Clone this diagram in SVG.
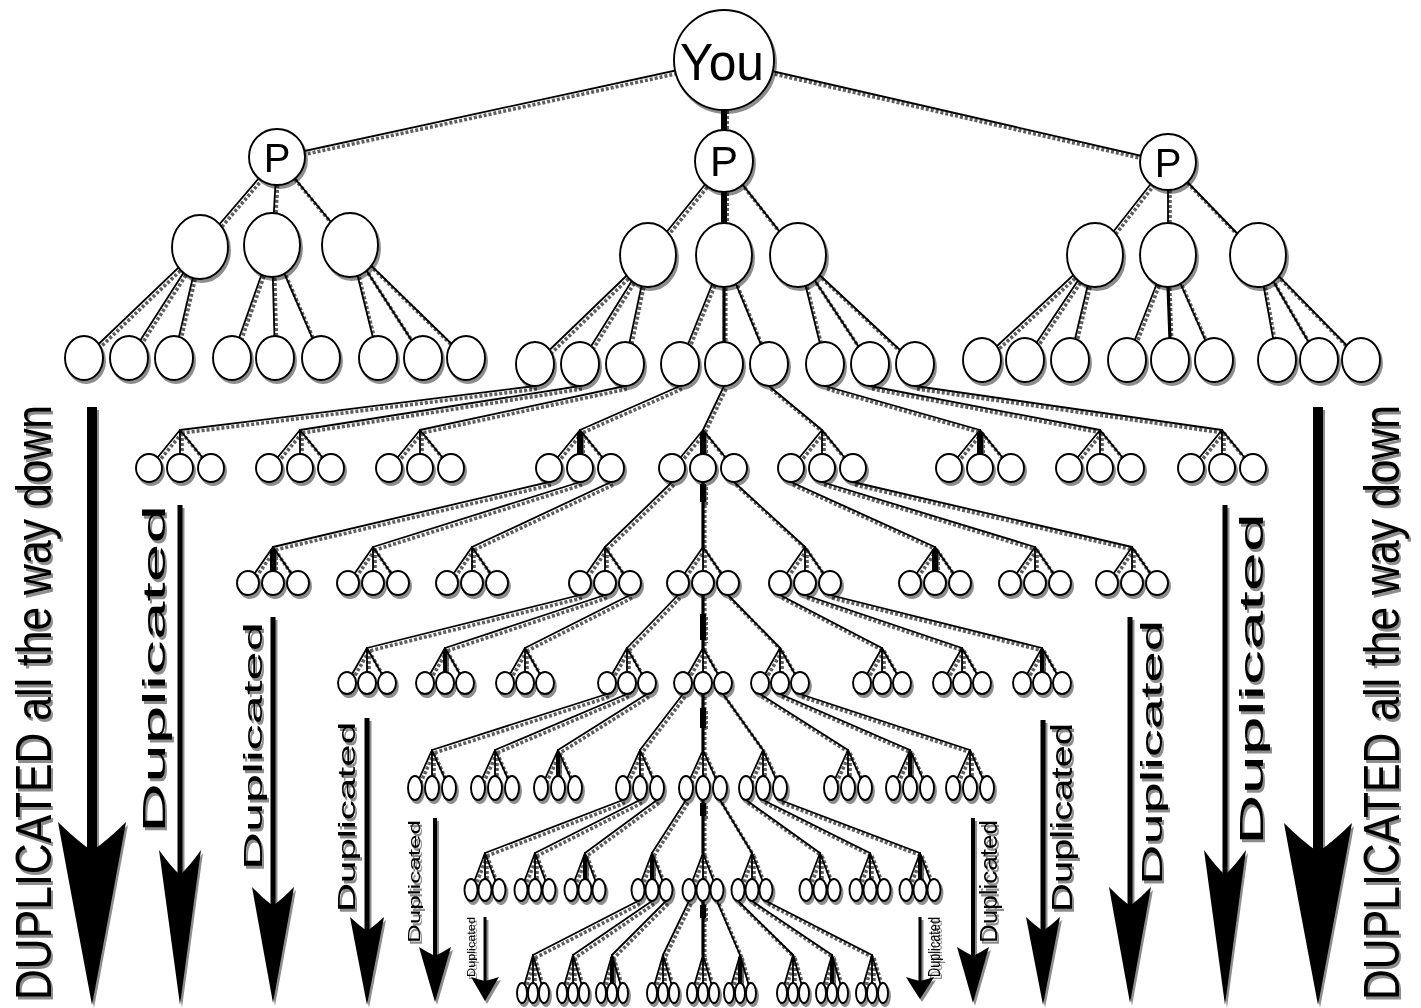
<svg xmlns="http://www.w3.org/2000/svg" width="1421" height="1008" viewBox="0 0 1421 1008">
<defs>
<style>
.e{fill:none;stroke:#000;stroke-width:1.8;stroke-linecap:round}
.sh{fill:none;stroke:#5e5e5e;stroke-width:3.6;stroke-dasharray:3 2}
.k{stroke-width:3.2}
.kk{stroke-width:6;stroke-linecap:butt}
.k2{stroke-width:4;stroke-linecap:butt}
.n ellipse,.n circle{fill:#fff;stroke:#000;stroke-width:1.9}
.lbl{font-family:"Liberation Sans",Arial,sans-serif;fill:#000;text-anchor:middle}
.dup{font-family:"Liberation Sans",Arial,sans-serif;fill:#000}
.shaft{stroke:#000;fill:none}
.head{fill:#000}
</style>
<filter id="ds" filterUnits="userSpaceOnUse" x="0" y="0" width="1421" height="1008">
<feOffset in="SourceAlpha" dx="2" dy="3" result="o"/>
<feComponentTransfer in="o" result="g"><feFuncA type="linear" slope="0.45"/></feComponentTransfer>
<feMerge><feMergeNode in="g"/><feMergeNode in="SourceGraphic"/></feMerge>
</filter>
</defs>
<rect width="1421" height="1008" fill="#fff"/>

<g id="connectors">
<use href="#edges" class="sh" x="2" y="3"/>
<g class="e"><g id="edges">
<path d="M724,60L277,157M724,60L1168,162"/>
<path class="kk" d="M724,108L724,132"/>
<path d="M277,157L200,247M277,157L272,245M277,157L350,245"/>
<path d="M724,161L648,255M724,161L798,255"/>
<path class="kk" d="M724,190L724,225"/>
<path d="M1168,162L1095,255M1168,162L1168,255M1168,162L1258,255"/>
<path d="M200,247L84,358M200,247L129,358M200,247L174,358"/>
<path d="M272,245L232,358M272,245L275,358M272,245L321,358"/>
<path d="M350,245L378,358M350,245L423,358M350,245L466,358"/>
<path d="M648,255L535,364M648,255L580,364M648,255L625,364"/>
<path d="M724,255L680,364M724,255L769,364"/><path class="k" d="M724,285L724,345"/>
<path d="M798,255L825,364M798,255L870,364M798,255L915,364"/>
<path d="M1095,255L982,360M1095,255L1025,360M1095,255L1070,360"/>
<path d="M1168,255L1127,360M1168,255L1214,360"/><path class="k" d="M1168,285L1170,340"/>
<path d="M1258,255L1277,360M1258,255L1319,360M1258,255L1361,360"/>
<path d="M535,386L180,430M580,386L300,430M625,386L420,430M680,386L580,430M724,386L703,430M769,386L822,430M825,386L980,430M870,386L1100,430M915,386L1222,430"/>
<path d="M180,430L149,468M180,430L180,468M180,430L211,468M300,430L269,468M300,430L300,468M300,430L331,468M420,430L389,468M420,430L420,468M420,430L451,468M580,430L549,468M580,430L580,468M580,430L611,468M703,430L672,468M703,430L703,468M703,430L734,468M822,430L791,468M822,430L822,468M822,430L853,468M980,430L949,468M980,430L980,468M980,430L1011,468M1100,430L1069,468M1100,430L1100,468M1100,430L1131,468M1222,430L1191,468M1222,430L1222,468M1222,430L1253,468"/>
<path class="kk" d="M580,432L580,455M703,432L703,455M980,432L980,455"/>
<path d="M549,482L273,547M580,482L373,547M611,482L472,547M672,482L605,547M734,482L805,547M791,482L935,547M822,482L1035,547M853,482L1132,547"/>
<path class="k" d="M703,482L703,547"/><path class="kk" d="M703,484L703,502"/>
<path d="M273,547L248,583M273,547L273,583M273,547L298,583M373,547L348,583M373,547L373,583M373,547L398,583M472,547L447,583M472,547L472,583M472,547L497,583M605,547L580,583M605,547L605,583M605,547L630,583M703,547L678,583M703,547L703,583M703,547L728,583M805,547L780,583M805,547L805,583M805,547L830,583M935,547L910,583M935,547L935,583M935,547L960,583M1035,547L1010,583M1035,547L1035,583M1035,547L1060,583M1132,547L1107,583M1132,547L1132,583M1132,547L1157,583"/>
<path class="kk" d="M273,549L273,571M935,549L935,571"/>
<path d="M580,595L367,648M605,595L445,648M630,595L525,648M678,595L627,648M728,595L780,648M780,595L882,648M805,595L962,648M830,595L1042,648"/>
<path class="k" d="M703,595L703,648"/><path class="kk" d="M703,614L703,640"/>
<path d="M367,648L347,683M367,648L367,683M367,648L387,683M445,648L425,683M445,648L445,683M445,648L465,683M525,648L505,683M525,648L525,683M525,648L545,683M627,648L607,683M627,648L627,683M627,648L647,683M703,648L683,683M703,648L703,683M703,648L723,683M780,648L760,683M780,648L780,683M780,648L800,683M882,648L862,683M882,648L882,683M882,648L902,683M962,648L942,683M962,648L962,683M962,648L982,683M1042,648L1022,683M1042,648L1042,683M1042,648L1062,683"/>
<path class="k2" d="M445,650L445,672M1042,650L1042,672"/>
<path d="M607,694L432,750M627,694L495,750M647,694L558,750M683,694L640,750M723,694L763,750M760,694L848,750M780,694L910,750M800,694L970,750"/>
<path class="k" d="M703,694L703,750"/><path class="kk" d="M703,708L703,728"/>
<path d="M432,750L415,788M432,750L432,788M432,750L449,788M495,750L478,788M495,750L495,788M495,750L512,788M558,750L541,788M558,750L558,788M558,750L575,788M640,750L623,788M640,750L640,788M640,750L657,788M703,750L686,788M703,750L703,788M703,750L720,788M763,750L746,788M763,750L763,788M763,750L780,788M848,750L831,788M848,750L848,788M848,750L865,788M910,750L893,788M910,750L910,788M910,750L927,788M970,750L953,788M970,750L970,788M970,750L987,788"/>
<path class="k2" d="M558,752L558,776M910,752L910,776"/>
<path d="M623,800L485,853M640,800L535,853M657,800L585,853M686,800L652,853M720,800L752,853M746,800L820,853M763,800L870,853M780,800L920,853"/>
<path class="k" d="M703,800L703,853"/><path class="kk" d="M703,803L703,816"/>
<path d="M485,853L471,890M485,853L485,890M485,853L499,890M535,853L521,890M535,853L535,890M535,853L549,890M585,853L571,890M585,853L585,890M585,853L599,890M652,853L638,890M652,853L652,890M652,853L666,890M703,853L689,890M703,853L703,890M703,853L717,890M752,853L738,890M752,853L752,890M752,853L766,890M820,853L806,890M820,853L820,890M820,853L834,890M870,853L856,890M870,853L870,890M870,853L884,890M920,853L906,890M920,853L920,890M920,853L934,890"/>
<path class="k2" d="M585,855L585,879M652,855L652,879M920,855L920,879"/>
<path d="M638,901L533,955M652,901L573,955M666,901L612,955M689,901L663,955M717,901L740,955M738,901L793,955M752,901L832,955M766,901L872,955"/>
<path class="k" d="M703,901L703,955"/><path class="kk" d="M703,905L703,918"/>
<path d="M533,955L522,993M533,955L533,993M533,955L544,993M573,955L562,993M573,955L573,993M573,955L584,993M612,955L601,993M612,955L612,993M612,955L623,993M663,955L652,993M663,955L663,993M663,955L674,993M703,955L692,993M703,955L703,993M703,955L714,993M740,955L729,993M740,955L740,993M740,955L751,993M793,955L782,993M793,955L793,993M793,955L804,993M832,955L821,993M832,955L832,993M832,955L843,993M872,955L861,993M872,955L872,993M872,955L883,993"/>
<path class="k2" d="M612,957L612,983M740,957L740,983M832,957L832,983"/>
</g></g>
</g>

<g id="nodes" filter="url(#ds)">
<g id="you" class="n"><circle cx="724" cy="60" r="50"/><text class="lbl" x="722" y="80" font-size="52" textLength="84" lengthAdjust="spacingAndGlyphs">You</text></g>
<g id="p-left" class="n"><circle cx="277" cy="157" r="28"/><text class="lbl" x="277" y="172" font-size="40">P</text></g>
<g id="p-mid" class="n"><ellipse cx="724" cy="161" rx="29" ry="31"/><text class="lbl" x="724" y="176" font-size="42">P</text></g>
<g id="p-right" class="n"><circle cx="1168" cy="162" r="28"/><text class="lbl" x="1168" y="177" font-size="40">P</text></g>

<g id="l2-1" class="n"><ellipse cx="200" cy="247" rx="28" ry="32"/></g>
<g id="l2-2" class="n"><ellipse cx="272" cy="245" rx="28" ry="32"/></g>
<g id="l2-3" class="n"><ellipse cx="350" cy="245" rx="28" ry="32"/></g>
<g id="l2-4" class="n"><ellipse cx="648" cy="255" rx="28" ry="32"/></g>
<g id="l2-5" class="n"><ellipse cx="724" cy="255" rx="28" ry="32"/></g>
<g id="l2-6" class="n"><ellipse cx="798" cy="255" rx="28" ry="32"/></g>
<g id="l2-7" class="n"><ellipse cx="1095" cy="255" rx="28" ry="32"/></g>
<g id="l2-8" class="n"><ellipse cx="1168" cy="255" rx="28" ry="32"/></g>
<g id="l2-9" class="n"><ellipse cx="1258" cy="255" rx="28" ry="32"/></g>

<g id="l3-left" class="n">
<ellipse cx="84" cy="358" rx="19" ry="22"/><ellipse cx="129" cy="358" rx="19" ry="22"/><ellipse cx="174" cy="358" rx="19" ry="22"/>
<ellipse cx="232" cy="358" rx="19" ry="22"/><ellipse cx="275" cy="358" rx="19" ry="22"/><ellipse cx="321" cy="358" rx="19" ry="22"/>
<ellipse cx="378" cy="358" rx="19" ry="22"/><ellipse cx="423" cy="358" rx="19" ry="22"/><ellipse cx="466" cy="358" rx="19" ry="22"/>
</g>
<g id="l3-mid" class="n">
<ellipse cx="535" cy="364" rx="19" ry="22"/><ellipse cx="580" cy="364" rx="19" ry="22"/><ellipse cx="625" cy="364" rx="19" ry="22"/>
<ellipse cx="680" cy="364" rx="19" ry="22"/><ellipse cx="724" cy="364" rx="19" ry="22"/><ellipse cx="769" cy="364" rx="19" ry="22"/>
<ellipse cx="825" cy="364" rx="19" ry="22"/><ellipse cx="870" cy="364" rx="19" ry="22"/><ellipse cx="915" cy="364" rx="19" ry="22"/>
</g>
<g id="l3-right" class="n">
<ellipse cx="982" cy="360" rx="19" ry="22"/><ellipse cx="1025" cy="360" rx="19" ry="22"/><ellipse cx="1070" cy="360" rx="19" ry="22"/>
<ellipse cx="1127" cy="360" rx="19" ry="22"/><ellipse cx="1170" cy="360" rx="19" ry="22"/><ellipse cx="1214" cy="360" rx="19" ry="22"/>
<ellipse cx="1277" cy="360" rx="19" ry="22"/><ellipse cx="1319" cy="360" rx="19" ry="22"/><ellipse cx="1361" cy="360" rx="19" ry="22"/>
</g>

<g id="l4" class="n">
<g id="t4-1"><ellipse cx="149" cy="468" rx="13" ry="14"/><ellipse cx="180" cy="468" rx="13" ry="14"/><ellipse cx="211" cy="468" rx="13" ry="14"/></g>
<g id="t4-2"><ellipse cx="269" cy="468" rx="13" ry="14"/><ellipse cx="300" cy="468" rx="13" ry="14"/><ellipse cx="331" cy="468" rx="13" ry="14"/></g>
<g id="t4-3"><ellipse cx="389" cy="468" rx="13" ry="14"/><ellipse cx="420" cy="468" rx="13" ry="14"/><ellipse cx="451" cy="468" rx="13" ry="14"/></g>
<g id="t4-4"><ellipse cx="549" cy="468" rx="13" ry="14"/><ellipse cx="580" cy="468" rx="13" ry="14"/><ellipse cx="611" cy="468" rx="13" ry="14"/></g>
<g id="t4-5"><ellipse cx="672" cy="468" rx="13" ry="14"/><ellipse cx="703" cy="468" rx="13" ry="14"/><ellipse cx="734" cy="468" rx="13" ry="14"/></g>
<g id="t4-6"><ellipse cx="791" cy="468" rx="13" ry="14"/><ellipse cx="822" cy="468" rx="13" ry="14"/><ellipse cx="853" cy="468" rx="13" ry="14"/></g>
<g id="t4-7"><ellipse cx="949" cy="468" rx="13" ry="14"/><ellipse cx="980" cy="468" rx="13" ry="14"/><ellipse cx="1011" cy="468" rx="13" ry="14"/></g>
<g id="t4-8"><ellipse cx="1069" cy="468" rx="13" ry="14"/><ellipse cx="1100" cy="468" rx="13" ry="14"/><ellipse cx="1131" cy="468" rx="13" ry="14"/></g>
<g id="t4-9"><ellipse cx="1191" cy="468" rx="13" ry="14"/><ellipse cx="1222" cy="468" rx="13" ry="14"/><ellipse cx="1253" cy="468" rx="13" ry="14"/></g>
</g>

<g id="l5" class="n">
<g id="t5-1"><ellipse cx="248" cy="583" rx="11" ry="12"/><ellipse cx="273" cy="583" rx="11" ry="12"/><ellipse cx="298" cy="583" rx="11" ry="12"/></g>
<g id="t5-2"><ellipse cx="348" cy="583" rx="11" ry="12"/><ellipse cx="373" cy="583" rx="11" ry="12"/><ellipse cx="398" cy="583" rx="11" ry="12"/></g>
<g id="t5-3"><ellipse cx="447" cy="583" rx="11" ry="12"/><ellipse cx="472" cy="583" rx="11" ry="12"/><ellipse cx="497" cy="583" rx="11" ry="12"/></g>
<g id="t5-4"><ellipse cx="580" cy="583" rx="11" ry="12"/><ellipse cx="605" cy="583" rx="11" ry="12"/><ellipse cx="630" cy="583" rx="11" ry="12"/></g>
<g id="t5-5"><ellipse cx="678" cy="583" rx="11" ry="12"/><ellipse cx="703" cy="583" rx="11" ry="12"/><ellipse cx="728" cy="583" rx="11" ry="12"/></g>
<g id="t5-6"><ellipse cx="780" cy="583" rx="11" ry="12"/><ellipse cx="805" cy="583" rx="11" ry="12"/><ellipse cx="830" cy="583" rx="11" ry="12"/></g>
<g id="t5-7"><ellipse cx="910" cy="583" rx="11" ry="12"/><ellipse cx="935" cy="583" rx="11" ry="12"/><ellipse cx="960" cy="583" rx="11" ry="12"/></g>
<g id="t5-8"><ellipse cx="1010" cy="583" rx="11" ry="12"/><ellipse cx="1035" cy="583" rx="11" ry="12"/><ellipse cx="1060" cy="583" rx="11" ry="12"/></g>
<g id="t5-9"><ellipse cx="1107" cy="583" rx="11" ry="12"/><ellipse cx="1132" cy="583" rx="11" ry="12"/><ellipse cx="1157" cy="583" rx="11" ry="12"/></g>
</g>

<g id="l6" class="n">
<g id="t6-1"><ellipse cx="347" cy="683" rx="9" ry="11"/><ellipse cx="367" cy="683" rx="9" ry="11"/><ellipse cx="387" cy="683" rx="9" ry="11"/></g>
<g id="t6-2"><ellipse cx="425" cy="683" rx="9" ry="11"/><ellipse cx="445" cy="683" rx="9" ry="11"/><ellipse cx="465" cy="683" rx="9" ry="11"/></g>
<g id="t6-3"><ellipse cx="505" cy="683" rx="9" ry="11"/><ellipse cx="525" cy="683" rx="9" ry="11"/><ellipse cx="545" cy="683" rx="9" ry="11"/></g>
<g id="t6-4"><ellipse cx="607" cy="683" rx="9" ry="11"/><ellipse cx="627" cy="683" rx="9" ry="11"/><ellipse cx="647" cy="683" rx="9" ry="11"/></g>
<g id="t6-5"><ellipse cx="683" cy="683" rx="9" ry="11"/><ellipse cx="703" cy="683" rx="9" ry="11"/><ellipse cx="723" cy="683" rx="9" ry="11"/></g>
<g id="t6-6"><ellipse cx="760" cy="683" rx="9" ry="11"/><ellipse cx="780" cy="683" rx="9" ry="11"/><ellipse cx="800" cy="683" rx="9" ry="11"/></g>
<g id="t6-7"><ellipse cx="862" cy="683" rx="9" ry="11"/><ellipse cx="882" cy="683" rx="9" ry="11"/><ellipse cx="902" cy="683" rx="9" ry="11"/></g>
<g id="t6-8"><ellipse cx="942" cy="683" rx="9" ry="11"/><ellipse cx="962" cy="683" rx="9" ry="11"/><ellipse cx="982" cy="683" rx="9" ry="11"/></g>
<g id="t6-9"><ellipse cx="1022" cy="683" rx="9" ry="11"/><ellipse cx="1042" cy="683" rx="9" ry="11"/><ellipse cx="1062" cy="683" rx="9" ry="11"/></g>
</g>

<g id="l7" class="n">
<g id="t7-1"><ellipse cx="415" cy="788" rx="7" ry="12"/><ellipse cx="432" cy="788" rx="7" ry="12"/><ellipse cx="449" cy="788" rx="7" ry="12"/></g>
<g id="t7-2"><ellipse cx="478" cy="788" rx="7" ry="12"/><ellipse cx="495" cy="788" rx="7" ry="12"/><ellipse cx="512" cy="788" rx="7" ry="12"/></g>
<g id="t7-3"><ellipse cx="541" cy="788" rx="7" ry="12"/><ellipse cx="558" cy="788" rx="7" ry="12"/><ellipse cx="575" cy="788" rx="7" ry="12"/></g>
<g id="t7-4"><ellipse cx="623" cy="788" rx="7" ry="12"/><ellipse cx="640" cy="788" rx="7" ry="12"/><ellipse cx="657" cy="788" rx="7" ry="12"/></g>
<g id="t7-5"><ellipse cx="686" cy="788" rx="7" ry="12"/><ellipse cx="703" cy="788" rx="7" ry="12"/><ellipse cx="720" cy="788" rx="7" ry="12"/></g>
<g id="t7-6"><ellipse cx="746" cy="788" rx="7" ry="12"/><ellipse cx="763" cy="788" rx="7" ry="12"/><ellipse cx="780" cy="788" rx="7" ry="12"/></g>
<g id="t7-7"><ellipse cx="831" cy="788" rx="7" ry="12"/><ellipse cx="848" cy="788" rx="7" ry="12"/><ellipse cx="865" cy="788" rx="7" ry="12"/></g>
<g id="t7-8"><ellipse cx="893" cy="788" rx="7" ry="12"/><ellipse cx="910" cy="788" rx="7" ry="12"/><ellipse cx="927" cy="788" rx="7" ry="12"/></g>
<g id="t7-9"><ellipse cx="953" cy="788" rx="7" ry="12"/><ellipse cx="970" cy="788" rx="7" ry="12"/><ellipse cx="987" cy="788" rx="7" ry="12"/></g>
</g>

<g id="l8" class="n">
<g id="t8-1"><ellipse cx="471" cy="890" rx="6.5" ry="11"/><ellipse cx="485" cy="890" rx="6.5" ry="11"/><ellipse cx="499" cy="890" rx="6.5" ry="11"/></g>
<g id="t8-2"><ellipse cx="521" cy="890" rx="6.5" ry="11"/><ellipse cx="535" cy="890" rx="6.5" ry="11"/><ellipse cx="549" cy="890" rx="6.5" ry="11"/></g>
<g id="t8-3"><ellipse cx="571" cy="890" rx="6.5" ry="11"/><ellipse cx="585" cy="890" rx="6.5" ry="11"/><ellipse cx="599" cy="890" rx="6.5" ry="11"/></g>
<g id="t8-4"><ellipse cx="638" cy="890" rx="6.5" ry="11"/><ellipse cx="652" cy="890" rx="6.5" ry="11"/><ellipse cx="666" cy="890" rx="6.5" ry="11"/></g>
<g id="t8-5"><ellipse cx="689" cy="890" rx="6.5" ry="11"/><ellipse cx="703" cy="890" rx="6.5" ry="11"/><ellipse cx="717" cy="890" rx="6.5" ry="11"/></g>
<g id="t8-6"><ellipse cx="738" cy="890" rx="6.5" ry="11"/><ellipse cx="752" cy="890" rx="6.5" ry="11"/><ellipse cx="766" cy="890" rx="6.5" ry="11"/></g>
<g id="t8-7"><ellipse cx="806" cy="890" rx="6.5" ry="11"/><ellipse cx="820" cy="890" rx="6.5" ry="11"/><ellipse cx="834" cy="890" rx="6.5" ry="11"/></g>
<g id="t8-8"><ellipse cx="856" cy="890" rx="6.5" ry="11"/><ellipse cx="870" cy="890" rx="6.5" ry="11"/><ellipse cx="884" cy="890" rx="6.5" ry="11"/></g>
<g id="t8-9"><ellipse cx="906" cy="890" rx="6.5" ry="11"/><ellipse cx="920" cy="890" rx="6.5" ry="11"/><ellipse cx="934" cy="890" rx="6.5" ry="11"/></g>
</g>

<g id="l9" class="n">
<g id="t9-1"><ellipse cx="522" cy="993" rx="5" ry="10"/><ellipse cx="533" cy="993" rx="5" ry="10"/><ellipse cx="544" cy="993" rx="5" ry="10"/></g>
<g id="t9-2"><ellipse cx="562" cy="993" rx="5" ry="10"/><ellipse cx="573" cy="993" rx="5" ry="10"/><ellipse cx="584" cy="993" rx="5" ry="10"/></g>
<g id="t9-3"><ellipse cx="601" cy="993" rx="5" ry="10"/><ellipse cx="612" cy="993" rx="5" ry="10"/><ellipse cx="623" cy="993" rx="5" ry="10"/></g>
<g id="t9-4"><ellipse cx="652" cy="993" rx="5" ry="10"/><ellipse cx="663" cy="993" rx="5" ry="10"/><ellipse cx="674" cy="993" rx="5" ry="10"/></g>
<g id="t9-5"><ellipse cx="692" cy="993" rx="5" ry="10"/><ellipse cx="703" cy="993" rx="5" ry="10"/><ellipse cx="714" cy="993" rx="5" ry="10"/></g>
<g id="t9-6"><ellipse cx="729" cy="993" rx="5" ry="10"/><ellipse cx="740" cy="993" rx="5" ry="10"/><ellipse cx="751" cy="993" rx="5" ry="10"/></g>
<g id="t9-7"><ellipse cx="782" cy="993" rx="5" ry="10"/><ellipse cx="793" cy="993" rx="5" ry="10"/><ellipse cx="804" cy="993" rx="5" ry="10"/></g>
<g id="t9-8"><ellipse cx="821" cy="993" rx="5" ry="10"/><ellipse cx="832" cy="993" rx="5" ry="10"/><ellipse cx="843" cy="993" rx="5" ry="10"/></g>
<g id="t9-9"><ellipse cx="861" cy="993" rx="5" ry="10"/><ellipse cx="872" cy="993" rx="5" ry="10"/><ellipse cx="883" cy="993" rx="5" ry="10"/></g>
</g>
</g>

<g id="arrows" filter="url(#ds)">
<path class="shaft" stroke-width="10" d="M92,407L92,860"/>
<path class="head" d="M92,851Q75,839 58,822Q68,877 92,1005Q116,877 126,822Q109,839 92,851Z"/>
<path class="shaft" stroke-width="5" d="M180,505L180,880"/>
<path class="head" d="M180,875Q169.5,865 159,850Q165.3,896 180,1005Q194.7,896 201,850Q190.5,865 180,875Z"/>
<path class="shaft" stroke-width="5" d="M273,617L273,910"/>
<path class="head" d="M273,906Q262.5,898 252,887Q258.3,922 273,1003Q287.7,922 294,887Q283.5,898 273,906Z"/>
<path class="shaft" stroke-width="5" d="M367,718L367,935"/>
<path class="head" d="M367,931Q358.5,925 350,917Q355,943 367,1005Q379,943 384,917Q375.5,925 367,931Z"/>
<path class="shaft" stroke-width="4" d="M435,818L435,960"/>
<path class="head" d="M435,956Q427,952 419,947Q423.8,963.5 435,1002Q446.2,963.5 451,947Q443,952 435,956Z"/>
<path class="shaft" stroke-width="3" d="M485,917L485,985"/>
<path class="head" d="M485,981Q478,979.4 471,977Q475.2,984 485,1001Q494.8,984 499,977Q492,979.4 485,981Z"/>
<path class="shaft" stroke-width="10" d="M1318,407L1318,860"/>
<path class="head" d="M1318,852Q1301,840 1284,823Q1294,878 1318,1005Q1342,878 1352,823Q1335,840 1318,852Z"/>
<path class="shaft" stroke-width="5" d="M1225,505L1225,880"/>
<path class="head" d="M1225,875Q1214.5,865 1204,850Q1210.3,896 1225,1005Q1239.7,896 1246,850Q1235.5,865 1225,875Z"/>
<path class="shaft" stroke-width="5" d="M1130,617L1130,910"/>
<path class="head" d="M1130,906Q1119.5,898 1109,887Q1115.3,922 1130,1003Q1144.7,922 1151,887Q1140.5,898 1130,906Z"/>
<path class="shaft" stroke-width="5" d="M1043,720L1043,935"/>
<path class="head" d="M1043,931Q1034.5,925 1026,917Q1031,943 1043,1005Q1055,943 1060,917Q1051.5,925 1043,931Z"/>
<path class="shaft" stroke-width="4" d="M973,818L973,960"/>
<path class="head" d="M973,956Q965,952 957,947Q961.8,963.5 973,1003Q984.2,963.5 989,947Q981,952 973,956Z"/>
<path class="shaft" stroke-width="3" d="M920,917L920,985"/>
<path class="head" d="M920,981Q913,979.4 906,977Q910.2,984 920,999Q929.8,984 934,977Q927,979.4 920,981Z"/>

<text class="dup" transform="translate(51,1000) rotate(-90)" font-size="50" textLength="595" lengthAdjust="spacingAndGlyphs">DUPLICATED all the way down</text>
<text class="dup" transform="translate(1399,1000) rotate(-90)" font-size="50" textLength="595" lengthAdjust="spacingAndGlyphs">DUPLICATED all the way down</text>
<text class="dup" transform="translate(165,833) rotate(-90)" font-size="32" textLength="328" lengthAdjust="spacingAndGlyphs">Duplicated</text>
<text class="dup" transform="translate(262,870) rotate(-90)" font-size="26" textLength="248" lengthAdjust="spacingAndGlyphs">Duplicated</text>
<text class="dup" transform="translate(355,912) rotate(-90)" font-size="24" textLength="190" lengthAdjust="spacingAndGlyphs">Duplicated</text>
<text class="dup" transform="translate(420,943) rotate(-90)" font-size="16" textLength="123" lengthAdjust="spacingAndGlyphs">Duplicated</text>
<text class="dup" transform="translate(475,977) rotate(-90)" font-size="11" textLength="60" lengthAdjust="spacingAndGlyphs">Duplicated</text>
<text class="dup" transform="translate(1263,845) rotate(-90)" font-size="33" textLength="332" lengthAdjust="spacingAndGlyphs">Duplicated</text>
<text class="dup" transform="translate(1162,885) rotate(-90)" font-size="30" textLength="265" lengthAdjust="spacingAndGlyphs">Duplicated</text>
<text class="dup" transform="translate(1072,912) rotate(-90)" font-size="30" textLength="189" lengthAdjust="spacingAndGlyphs">Duplicated</text>
<text class="dup" transform="translate(997,943) rotate(-90)" font-size="23" textLength="123" lengthAdjust="spacingAndGlyphs">Duplicated</text>
<text class="dup" transform="translate(940,977) rotate(-90)" font-size="17" textLength="60" lengthAdjust="spacingAndGlyphs">Duplicated</text>
</g>
</svg>
